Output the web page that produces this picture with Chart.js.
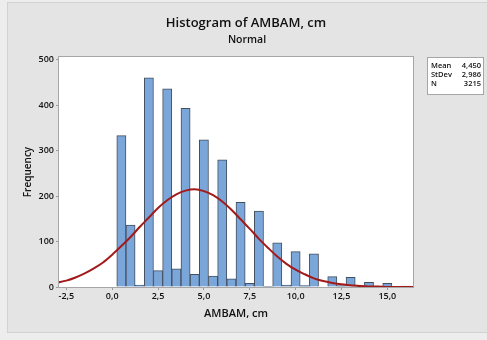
<!DOCTYPE html>
<html>
<head>
<meta charset="utf-8">
<script src="https://cdn.jsdelivr.net/npm/chart.js@4"></script>
<style>
  html, body { margin: 0; padding: 0; background: #ececec; }
</style>
</head>
<body>
<canvas id="histogram-chart" width="487" height="340"></canvas>
<script>
// histogram bins (width 0,5) and counts
const binCenters = [0.5, 1.0, 1.5, 2.0, 2.5, 3.0, 3.5, 4.0, 4.5, 5.0, 5.5, 6.0, 6.5, 7.0, 7.5, 8.0,
                    8.5, 9.0, 9.5, 10.0, 10.5, 11.0, 11.5, 12.0, 12.5, 13.0, 13.5, 14.0, 14.5, 15.0, 15.5, 16.0];
const counts = [333, 136, 4, 460, 36, 436, 40, 393, 28, 324, 24, 280, 18, 186, 8, 167,
                1, 97, 4, 78, 3, 73, 0, 23, 3, 21, 0, 10, 0, 8, 0, 2];

// fitted normal curve, read at every 0,5
const curveX = [-3, -2.5, -2, -1.5, -1, -0.5, 0, 0.5, 1, 1.5, 2, 2.5, 3, 3.5, 4, 4.5, 5, 5.5, 6, 6.5,
                7, 7.5, 8, 8.5, 9, 9.5, 10, 10.5, 11, 11.5, 12, 12.5, 13, 13.5, 14, 14.5, 15, 15.5, 16, 16.5];
const curveY = [10, 14, 21, 30, 41, 54, 71, 90, 110, 132, 153, 174, 191, 204, 212, 215, 211, 202, 188, 170,
                149, 128, 106, 86, 67, 51, 38, 28, 19, 13, 9, 6, 4, 2, 1, 1, 0, 0, 0, 0];

const xTicks = [-2.5, 0, 2.5, 5, 7.5, 10, 12.5, 15];
const yTicks = [0, 100, 200, 300, 400, 500];

const titleText = 'Histogram of AMBAM, cm';
const subtitleText = 'Normal';
const statLabels = ['Mean', 'StDev', 'N'];
const statValues = ['4,450', '2,986', '3215'];

const FONT = "'Open Sans', 'Noto Sans', sans-serif";

const decorations = {
    id: 'decorations',
    beforeDraw(chart) {
        const c = chart.ctx;
        const a = chart.chartArea;
        c.save();
        c.fillStyle = '#ededed';
        c.fillRect(0, 0, chart.width, chart.height);
        c.fillStyle = '#e4e4e4';
        c.fillRect(7, 2, chart.width - 7, 331);
        c.strokeStyle = '#d2d2d2';
        c.lineWidth = 1;
        c.strokeRect(7.5, 2.5, chart.width - 7, 330);
        c.fillStyle = '#ffffff';
        c.fillRect(a.left, a.top, a.right - a.left, a.bottom - a.top);
        c.restore();
    },
    afterDraw(chart) {
        const c = chart.ctx;
        const a = chart.chartArea;
        c.save();
        c.strokeStyle = '#a6a6a6';
        c.lineWidth = 1;
        c.strokeRect(Math.round(a.left) - 0.5, Math.round(a.top) - 0.5,
                     Math.round(a.right - a.left) + 1, Math.round(a.bottom - a.top) + 1);

        c.fillStyle = '#111111';
        c.textAlign = 'center';
        c.textBaseline = 'middle';
        c.font = '600 13px ' + FONT;
        c.fillText(titleText, 246, 23);
        c.font = '600 10.5px ' + FONT;
        c.fillText(subtitleText, 247, 40);

        // stats box
        c.fillStyle = '#ffffff';
        c.fillRect(427.5, 57.5, 56, 37);
        c.strokeStyle = '#a6a6a6';
        c.strokeRect(427.5, 57.5, 56, 37);
        c.fillStyle = '#111111';
        c.font = '600 7.5px ' + FONT;
        statLabels.forEach((lab, i) => {
            const y = 66 + i * 9;
            c.textAlign = 'left';
            c.fillText(lab, 431, y);
            c.textAlign = 'right';
            c.fillText(statValues[i], 481, y);
        });
        c.restore();
    }
};

const ctx = document.getElementById('histogram-chart').getContext('2d');
const myChart = new Chart(ctx, {
    type: 'bar',
    data: {
        datasets: [{
            type: 'line',
            label: 'Normal',
            data: curveX.map((x, i) => ({x: x, y: curveY[i]})),
            borderColor: '#a31a1a',
            borderWidth: 2,
            pointRadius: 0,
            cubicInterpolationMode: 'monotone',
            fill: false,
            order: 0,
        }, {
            type: 'bar',
            label: 'Frequency',
            data: binCenters.map((x, i) => ({x: x, y: counts[i]})),
            backgroundColor: '#7ba6d9',
            borderColor: '#434f5e',
            borderWidth: 1,
            barPercentage: 1,
            categoryPercentage: 1,
            order: 1,
        }]
    },
    options: {
        responsive: false,
        animation: false,
        layout: { padding: { left: 7, right: 74, top: 57, bottom: 7 } },
        plugins: {
            legend: { display: false },
            tooltip: { enabled: false },
        },
        scales: {
            x: {
                type: 'linear',
                offset: false,
                min: -2.9,
                max: 16.4,
                afterFit: (s) => { s.height = 46; },
                afterBuildTicks: (s) => { s.ticks = xTicks.map(v => ({value: v})); },
                ticks: {
                    padding: 1,
                    color: '#111111',
                    font: { family: FONT, size: 9, weight: '600' },
                    callback: (v) => v.toFixed(1).replace('.', ','),
                },
                grid: { offset: false, drawOnChartArea: false, tickLength: 3, color: '#9a9a9a' },
                border: { display: false },
                title: {
                    display: true,
                    text: 'AMBAM, cm',
                    color: '#111111',
                    font: { family: FONT, size: 11, weight: '600' },
                    padding: { top: 0, bottom: 13 },
                },
            },
            y: {
                min: 0,
                max: 506,
                afterFit: (s) => { s.width = 52; },
                afterBuildTicks: (s) => { s.ticks = yTicks.map(v => ({value: v})); },
                ticks: {
                    padding: 2,
                    color: '#111111',
                    font: { family: FONT, size: 9, weight: '600' },
                },
                grid: { drawOnChartArea: false, tickLength: 3, color: '#9a9a9a' },
                border: { display: false },
                title: {
                    display: true,
                    text: 'Frequency',
                    color: '#111111',
                    font: { family: FONT, size: 10, weight: '600' },
                    padding: { top: 15, bottom: 0 },
                },
            }
        }
    },
    plugins: [decorations]
});
</script>
</body>
</html>
